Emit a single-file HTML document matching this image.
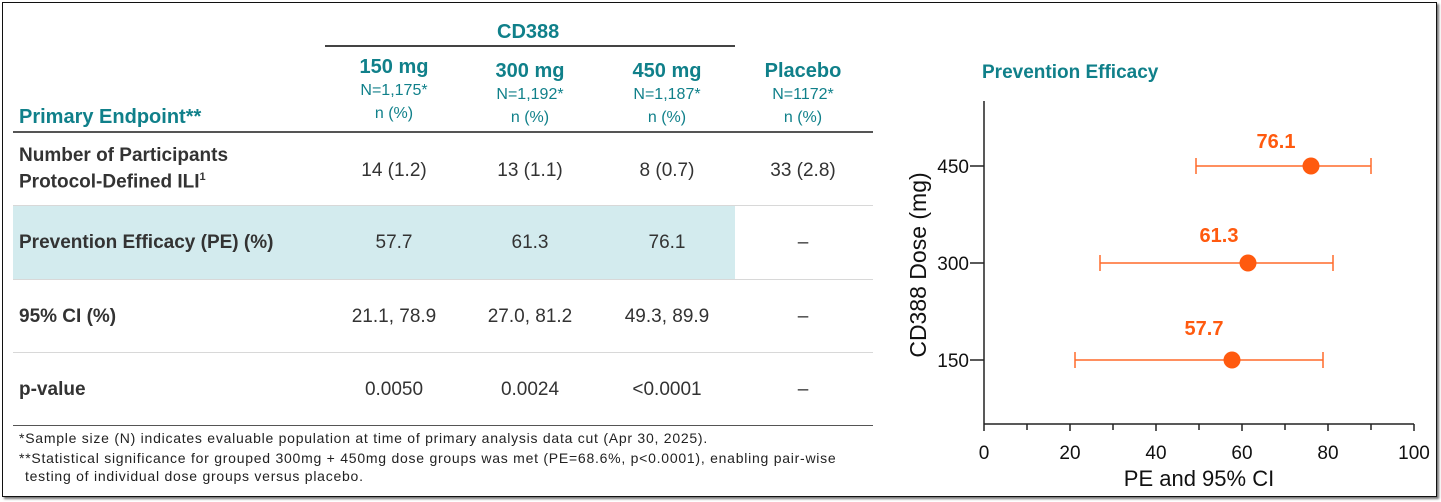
<!DOCTYPE html>
<html><head><meta charset="utf-8"><style>
body{margin:0;width:1441px;height:502px;background:#fff;position:relative;overflow:hidden;font-family:"Liberation Sans",sans-serif;color:#333}
.frame{position:absolute;left:2px;top:2px;width:1433px;height:493px;border:1px solid #111;box-shadow:2px 2px 2px #777}
.a{position:absolute;white-space:nowrap}
.c{position:absolute;text-align:center;width:140px;transform:translateX(-70px)}
.t{color:#10808a;font-weight:bold}
.h{font-size:20px}
.s{font-size:16px;color:#10808a;line-height:23px}
.v{font-size:19px;color:#333}
.lab{font-size:19px;font-weight:bold;color:#333}
.line{position:absolute;left:13px;width:860px;height:1px;background:#d8d8d8}
.fn{font-size:14px;color:#222;letter-spacing:0.75px}
</style></head><body>
<div class="frame"></div>
<div class="a t h" style="left:497px;top:21px">CD388</div>
<div style="position:absolute;left:325px;top:45px;width:410px;height:2px;background:#444"></div>
<div class="c" style="left:394px;top:56px"><div class="t h">150 mg</div><div class="s">N=1,175*</div><div class="s">n (%)</div></div>
<div class="c" style="left:530px;top:60px"><div class="t h">300 mg</div><div class="s">N=1,192*</div><div class="s">n (%)</div></div>
<div class="c" style="left:667px;top:60px"><div class="t h">450 mg</div><div class="s">N=1,187*</div><div class="s">n (%)</div></div>
<div class="c" style="left:803px;top:60px"><div class="t h">Placebo</div><div class="s">N=1172*</div><div class="s">n (%)</div></div>
<div class="a t" style="left:19px;top:106px;font-size:20px">Primary Endpoint**</div>
<div style="position:absolute;left:13px;top:131px;width:860px;height:2px;background:#555"></div>
<div class="a lab" style="left:19px;top:145px">Number of Participants</div>
<div class="a lab" style="left:19px;top:171px">Protocol-Defined ILI<sup style="font-size:11px">1</sup></div>
<div class="c v" style="left:394px;top:160px">14 (1.2)</div>
<div class="c v" style="left:530px;top:160px">13 (1.1)</div>
<div class="c v" style="left:667px;top:160px">8 (0.7)</div>
<div class="c v" style="left:803px;top:160px">33 (2.8)</div>
<div class="line" style="top:205px"></div>
<div style="position:absolute;left:13px;top:206px;width:722px;height:73px;background:#d3ebee"></div>
<div class="a lab" style="left:19px;top:232px">Prevention Efficacy (PE) (%)</div>
<div class="c v" style="left:394px;top:232px">57.7</div>
<div class="c v" style="left:530px;top:232px">61.3</div>
<div class="c v" style="left:667px;top:232px">76.1</div>
<div class="c v" style="left:803px;top:232px">–</div>
<div class="line" style="top:279px"></div>
<div class="a lab" style="left:19px;top:306px">95% CI (%)</div>
<div class="c v" style="left:394px;top:306px">21.1, 78.9</div>
<div class="c v" style="left:530px;top:306px">27.0, 81.2</div>
<div class="c v" style="left:667px;top:306px">49.3, 89.9</div>
<div class="c v" style="left:803px;top:306px">–</div>
<div class="line" style="top:352px"></div>
<div class="a lab" style="left:19px;top:379px">p-value</div>
<div class="c v" style="left:394px;top:379px">0.0050</div>
<div class="c v" style="left:530px;top:379px">0.0024</div>
<div class="c v" style="left:667px;top:379px">&lt;0.0001</div>
<div class="c v" style="left:803px;top:379px">–</div>
<div style="position:absolute;left:13px;top:425px;width:860px;height:1px;background:#555"></div>
<div class="a fn" style="left:19px;top:430px">*Sample size (N) indicates evaluable population at time of primary analysis data cut (Apr 30, 2025).</div>
<div class="a fn" style="left:19px;top:450px">**Statistical significance for grouped 300mg + 450mg dose groups was met (PE=68.6%, p&lt;0.0001), enabling pair-wise</div>
<div class="a fn" style="left:25px;top:468px">testing of individual dose groups versus placebo.</div>
<svg style="position:absolute;left:0;top:0" width="1441" height="502">
<text x="982" y="78" fill="#10808a" font-weight="bold" font-size="19" font-family="Liberation Sans">Prevention Efficacy</text>
<g stroke="#222" stroke-width="1.5" fill="none">
<line x1="984" y1="101" x2="984" y2="424"/>
<line x1="984" y1="424" x2="1414" y2="424"/>
<line x1="970" y1="166" x2="984" y2="166"/><line x1="970" y1="263" x2="984" y2="263"/><line x1="970" y1="360" x2="984" y2="360"/>
<line x1="984" y1="424" x2="984" y2="431"/><line x1="1027" y1="424" x2="1027" y2="430"/><line x1="1070" y1="424" x2="1070" y2="431"/><line x1="1113" y1="424" x2="1113" y2="430"/><line x1="1156" y1="424" x2="1156" y2="431"/><line x1="1199" y1="424" x2="1199" y2="430"/><line x1="1242" y1="424" x2="1242" y2="431"/><line x1="1285" y1="424" x2="1285" y2="430"/><line x1="1328" y1="424" x2="1328" y2="431"/><line x1="1371" y1="424" x2="1371" y2="430"/><line x1="1414" y1="424" x2="1414" y2="431"/>
</g>
<g font-family="Liberation Sans" font-size="19" fill="#111" text-anchor="end">
<text x="969" y="173">450</text><text x="969" y="270">300</text><text x="969" y="367">150</text></g>
<g font-family="Liberation Sans" font-size="19" fill="#111" text-anchor="middle">
<text x="984" y="459">0</text><text x="1070" y="459">20</text><text x="1156" y="459">40</text><text x="1242" y="459">60</text><text x="1328" y="459">80</text><text x="1414" y="459">100</text>
<text x="1199" y="486" font-size="22">PE and 95% CI</text>
<text transform="translate(926,265) rotate(-90)" font-size="23">CD388 Dose (mg)</text></g>
<g stroke="#ff6a2a" stroke-width="1.5">
<line x1="1196" y1="166" x2="1371" y2="166"/><line x1="1196" y1="158" x2="1196" y2="174"/><line x1="1371" y1="158" x2="1371" y2="174"/>
<line x1="1100" y1="263" x2="1333" y2="263"/><line x1="1100" y1="255" x2="1100" y2="271"/><line x1="1333" y1="255" x2="1333" y2="271"/>
<line x1="1075" y1="360" x2="1323" y2="360"/><line x1="1075" y1="352" x2="1075" y2="368"/><line x1="1323" y1="352" x2="1323" y2="368"/>
</g>
<g fill="#ff5a0f"><circle cx="1311" cy="166" r="8.5"/><circle cx="1248" cy="263" r="8.5"/><circle cx="1232" cy="360" r="8.5"/></g>
<g fill="#ff5a0f" font-family="Liberation Sans" font-weight="bold" font-size="20" text-anchor="middle">
<text x="1276" y="148">76.1</text><text x="1219" y="242">61.3</text><text x="1204" y="335">57.7</text></g>
</svg>
</body></html>
